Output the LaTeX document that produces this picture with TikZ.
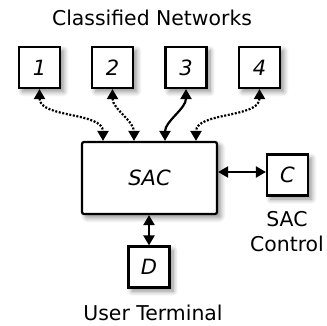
\documentclass[tikz,border=0pt]{standalone}
\usepackage{fontspec}
\setmainfont{DejaVu Sans}
\usetikzlibrary{arrows.meta,shadows.blur}
\tikzset{
  box/.style={draw, line width=1.1pt, fill=white, minimum size=20.5pt, inner sep=0pt,
    blur shadow={shadow xshift=1.8pt, shadow yshift=-1.8pt, shadow opacity=45, shadow blur radius=2.5pt, shadow blur steps=8},
    font=\fontsize{10.5}{12}\selectfont\itshape},
  bigbox/.style={box, minimum width=67.5pt, minimum height=36pt, rounded corners=1pt},
  link/.style={line width=1.1pt, {Triangle[length=5pt,width=5.5pt]}-{Triangle[length=5pt,width=5.5pt]}},
  dotlink/.style={link, dash pattern=on 1pt off 0.8pt},
  lbl/.style={font=\fontsize{10.2}{12.5}\selectfont, align=center, inner sep=0pt}
}
\begin{document}
\begin{tikzpicture}[x=0.5pt,y=-0.5pt]
\useasboundingbox (0,0) rectangle (326,326);
\node[lbl] (title) at (152,18) {Classified Networks};
\node[box] (n1) at (39.5,67.5) {1};
\node[box] (n2) at (112.5,67.5) {2};
\node[box] (n3) at (186,67.5) {3};
\node[box] (n4) at (259.5,67.5) {4};
\node[bigbox] (sac) at (149.5,178) {\fontsize{10.5}{12}\selectfont SAC};
\node[box] (c) at (287.5,175) {C};
\node[box] (d) at (149,267) {D};
\node[lbl] (ctl) at (287,232) {SAC\\Control};
\node[lbl] (ut) at (153,313) {User Terminal};
\coordinate (s1) at ([xshift=-23.25pt]sac.north);
\coordinate (s2) at ([xshift=-7.75pt]sac.north);
\coordinate (s3) at ([xshift=7.75pt]sac.north);
\coordinate (s4) at ([xshift=23.25pt]sac.north);
\coordinate (cw) at ([yshift=1.5pt]c.west);
\draw[dotlink] (n1.south) to[out=-90,in=90,looseness=0.9] (s1);
\draw[dotlink] (n2.south) to[out=-90,in=90,looseness=0.9] (s2);
\draw[link] (n3.south) to[out=-90,in=90,looseness=0.9] (s3);
\draw[dotlink] (n4.south) to[out=-90,in=90,looseness=0.9] (s4);
\draw[link] (sac.east |- cw) -- (cw);
\draw[link] (sac.south -| d.north) -- (d.north);
\end{tikzpicture}
\end{document}
